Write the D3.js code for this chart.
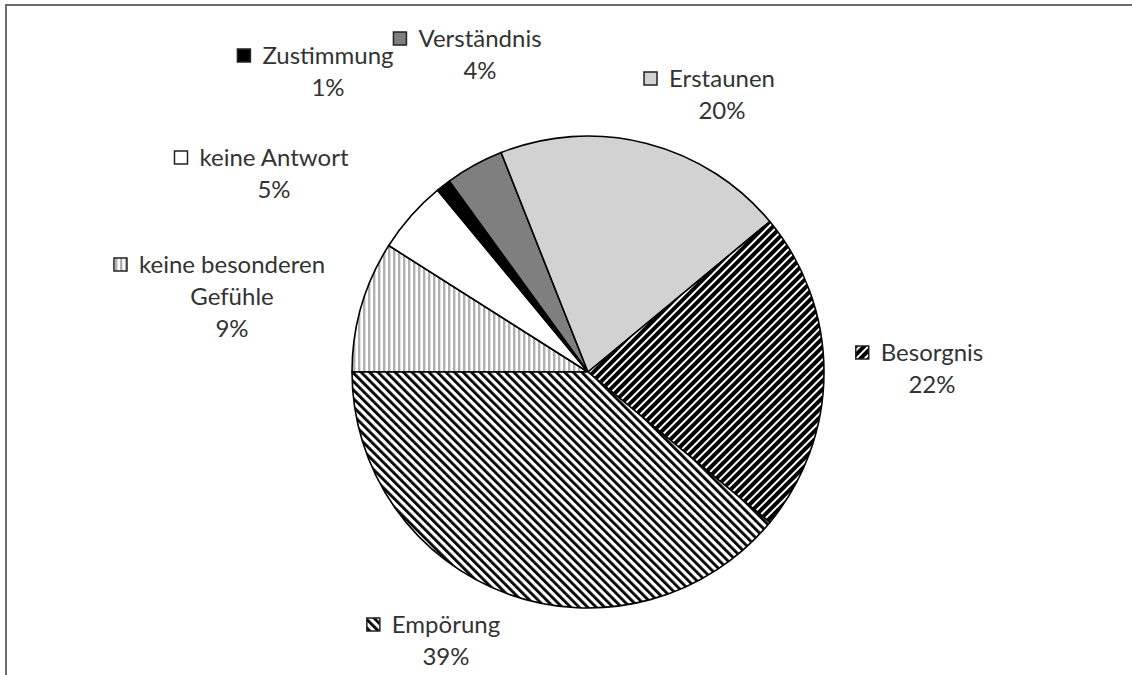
<!DOCTYPE html>
<html>
<head>
<meta charset="utf-8">
<script src="https://cdn.jsdelivr.net/npm/d3@7"></script>
<style>
  body { margin: 0; background: #fff; }
  text { font-family: Lato, "Open Sans", sans-serif; fill: #333; }
</style>
</head>
<body>
<div id="chart"></div>
<script>
// values, clockwise from 9 o'clock
const categories = ['keine besonderen Gefühle', 'keine Antwort', 'Zustimmung', 'Verständnis', 'Erstaunen', 'Besorgnis', 'Empörung'];
const shares = [9, 5, 1, 4, 20, 22, 39];
const labelLines = [['keine besonderen', 'Gefühle'], ['keine Antwort'], ['Zustimmung'], ['Verständnis'], ['Erstaunen'], ['Besorgnis'], ['Empörung']];

// label anchors (text centre x, first baseline y)
const labelPos = [[232, 273], [274, 166], [328, 64], [480, 47], [722, 87], [932, 361], [446, 633]];
const fills = ['url(#vert)', '#ffffff', '#000000', '#7f7f7f', '#d2d2d2', 'url(#up)', 'url(#down)'];

const WIDTH = 1132, HEIGHT = 675;
const CX = 588, CY = 372, R = 236;
const LINE_H = 32;

const svg = d3.select('#chart').append('svg')
    .attr('width', WIDTH)
    .attr('height', HEIGHT);

const defs = svg.append('defs');

// vertical grey lines
const vert = defs.append('pattern')
    .attr('id', 'vert')
    .attr('patternUnits', 'userSpaceOnUse')
    .attr('width', 5).attr('height', 5);
vert.append('rect').attr('width', 5).attr('height', 5).attr('fill', '#fff');
vert.append('rect').attr('width', 2.4).attr('height', 5).attr('fill', '#b0b0b0');

// dark upward diagonal
const up = defs.append('pattern')
    .attr('id', 'up')
    .attr('patternUnits', 'userSpaceOnUse')
    .attr('width', 6).attr('height', 6)
    .attr('patternTransform', 'rotate(45)');
up.append('rect').attr('width', 6).attr('height', 6).attr('fill', '#000');
up.append('rect').attr('width', 2).attr('height', 6).attr('fill', '#fff');

// downward diagonal
const down = defs.append('pattern')
    .attr('id', 'down')
    .attr('patternUnits', 'userSpaceOnUse')
    .attr('width', 6).attr('height', 6)
    .attr('patternTransform', 'rotate(-45)');
down.append('rect').attr('width', 6).attr('height', 6).attr('fill', '#fff');
down.append('rect').attr('width', 2.8).attr('height', 6).attr('fill', '#000');

// frame (top and left edges only)
svg.append('path')
    .attr('d', `M6,${HEIGHT} V5 H${WIDTH}`)
    .attr('fill', 'none')
    .attr('stroke', '#6a6a6a')
    .attr('stroke-width', 2);

const pie = d3.pie()
    .sort(null)
    .startAngle(-Math.PI / 2)
    .endAngle(3 * Math.PI / 2)
    .value(d => d);

const arc = d3.arc().innerRadius(0).outerRadius(R);

const g = svg.append('g').attr('transform', `translate(${CX},${CY})`);

g.selectAll('path')
    .data(pie(shares))
    .enter()
    .append('path')
    .attr('d', arc)
    .attr('fill', (d, i) => fills[i])
    .attr('stroke', '#000')
    .attr('stroke-width', 1.6)
    .attr('stroke-linejoin', 'round');

const fmt = d3.format('.0%');

const labels = svg.append('g');

categories.forEach((name, i) => {
    const [x, y] = labelPos[i];
    const lab = labels.append('g');
    const lines = labelLines[i].concat([fmt(shares[i] / 100)]);
    const t = lab.append('text')
        .attr('text-anchor', 'middle')
        .attr('font-size', 24);
    lines.forEach((ln, k) => {
        t.append('tspan')
            .attr('x', x)
            .attr('y', y + k * LINE_H)
            .text(ln);
    });
    const first = t.select('tspan').node().getComputedTextLength();
    lab.append('rect')
        .attr('x', x - first / 2 - 25)
        .attr('y', y - 15)
        .attr('width', 13)
        .attr('height', 13)
        .attr('fill', fills[i])
        .attr('stroke', '#222')
        .attr('stroke-width', 1.5);
});
</script>
</body>
</html>
